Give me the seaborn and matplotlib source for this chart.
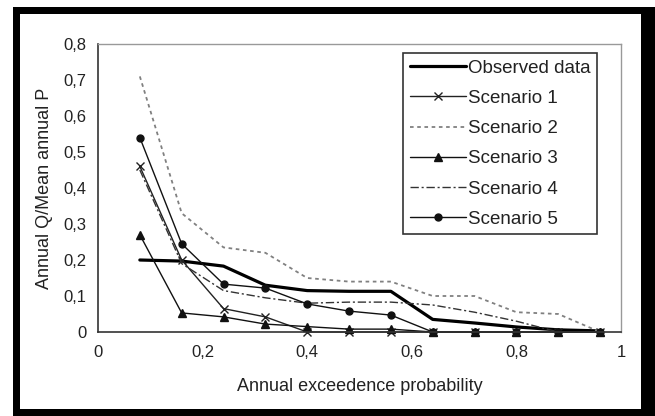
import matplotlib
matplotlib.use("Agg")
import matplotlib.pyplot as plt
import seaborn as sns
import pandas as pd
from matplotlib.patches import Rectangle

# ---- data ----
prob = [0.08, 0.16, 0.24, 0.32, 0.40, 0.48, 0.56, 0.64, 0.72, 0.80, 0.88, 0.96]
observed = [0.200, 0.197, 0.183, 0.130, 0.115, 0.113, 0.113, 0.035, 0.025, 0.014, 0.006, 0.003]
scenario1 = [0.46, 0.200, 0.065, 0.042, 0.0, 0.0, 0.0, 0.0, 0.0, 0.0, 0.0, 0.0]
scenario2 = [0.71, 0.33, 0.235, 0.22, 0.15, 0.14, 0.14, 0.10, 0.10, 0.055, 0.05, 0.0]
scenario3 = [0.27, 0.053, 0.042, 0.022, 0.015, 0.008, 0.008, 0.0, 0.0, 0.0, 0.0, 0.0]
scenario4 = [0.45, 0.19, 0.115, 0.095, 0.080, 0.083, 0.083, 0.075, 0.055, 0.030, 0.0, 0.0]
scenario5 = [0.54, 0.245, 0.133, 0.122, 0.078, 0.058, 0.047, 0.0, 0.0, 0.0, 0.0, 0.0]

series_names = ["Observed data", "Scenario 1", "Scenario 2", "Scenario 3", "Scenario 4", "Scenario 5"]
series_values = [observed, scenario1, scenario2, scenario3, scenario4, scenario5]

x_ticks = [0, 0.2, 0.4, 0.6, 0.8, 1.0]
x_tick_labels = ["0", "0,2", "0,4", "0,6", "0,8", "1"]
y_ticks = [0, 0.1, 0.2, 0.3, 0.4, 0.5, 0.6, 0.7, 0.8]
y_tick_labels = ["0", "0,1", "0,2", "0,3", "0,4", "0,5", "0,6", "0,7", "0,8"]

x_label = "Annual exceedence probability"
y_label = "Annual Q/Mean annual P"

# ---- styles ----
styles = {
    "Observed data": dict(color="black", lw=2.3, ls="-", marker=None, ms=0),
    "Scenario 1": dict(color="#222222", lw=1.0, ls="-", marker="x", ms=6),
    "Scenario 2": dict(color="#808080", lw=1.3, ls=(0, (2, 2)), marker=None, ms=0),
    "Scenario 3": dict(color="#111111", lw=1.0, ls="-", marker="^", ms=6),
    "Scenario 4": dict(color="#333333", lw=1.0, ls=(0, (6, 2, 1.5, 2)), marker=None, ms=0),
    "Scenario 5": dict(color="#111111", lw=1.0, ls="-", marker="o", ms=5),
}

sns.set_style("white")
plt.rcParams["font.family"] = ["Liberation Sans", "DejaVu Sans"]

fig = plt.figure(figsize=(6.55, 4.16), dpi=100)
fig.patch.set_facecolor("white")

W, H = 655.0, 416.0
# black frame with white inner panel
fig.patches.append(Rectangle((13 / W, 0), 1 - 13 / W, 1 - 7 / H, transform=fig.transFigure,
                             facecolor="black", edgecolor="none", zorder=-20))
fig.patches.append(Rectangle((20 / W, 7 / H), (641 - 20) / W, (409 - 14) / H, transform=fig.transFigure,
                             facecolor="white", edgecolor="none", zorder=-10))

ax = fig.add_axes([98 / W, (H - 332) / H, (621 - 98) / W, (332 - 44) / H])
ax.set_facecolor("white")
ax.set_zorder(5)

for name, vals in zip(series_names, series_values):
    df = pd.DataFrame({"p": prob, "v": vals})
    st = styles[name]
    sns.lineplot(data=df, x="p", y="v", ax=ax, color=st["color"], linewidth=st["lw"],
                 linestyle=st["ls"], marker=st["marker"], markersize=st["ms"],
                 markeredgecolor=st["color"], markerfacecolor=st["color"],
                 markeredgewidth=1.0, label=name, sort=False, estimator=None, clip_on=False)

ax.set_xlim(0, 1)
ax.set_ylim(0, 0.8)
ax.set_xticks(x_ticks)
ax.set_xticklabels(x_tick_labels)
ax.set_yticks(y_ticks)
ax.set_yticklabels(y_tick_labels)
ax.tick_params(axis="both", direction="out", length=3.5, width=1, color="#444444",
               labelsize=12, labelcolor="#222222", pad=5)
ax.tick_params(axis="x", pad=6)
ax.set_xlabel(x_label, fontsize=13, color="#222222", labelpad=13)
ax.set_ylabel(y_label, fontsize=13, color="#222222", labelpad=7)

for side in ["left", "bottom"]:
    ax.spines[side].set_color("#333333")
    ax.spines[side].set_linewidth(1.2)
for side in ["top", "right"]:
    ax.spines[side].set_color("#999999")
    ax.spines[side].set_linewidth(1.0)

leg = ax.legend(loc="upper right", bbox_to_anchor=(0.954, 0.969), borderaxespad=0,
                fontsize=13.5, frameon=True, fancybox=False, edgecolor="black",
                handlelength=3.0, handletextpad=0.1, labelspacing=0.70,
                borderpad=0.35)
leg.get_frame().set_linewidth(1.2)
for t in leg.get_texts():
    t.set_color("#222222")

fig.savefig("out.png", dpi=100, facecolor="white")
